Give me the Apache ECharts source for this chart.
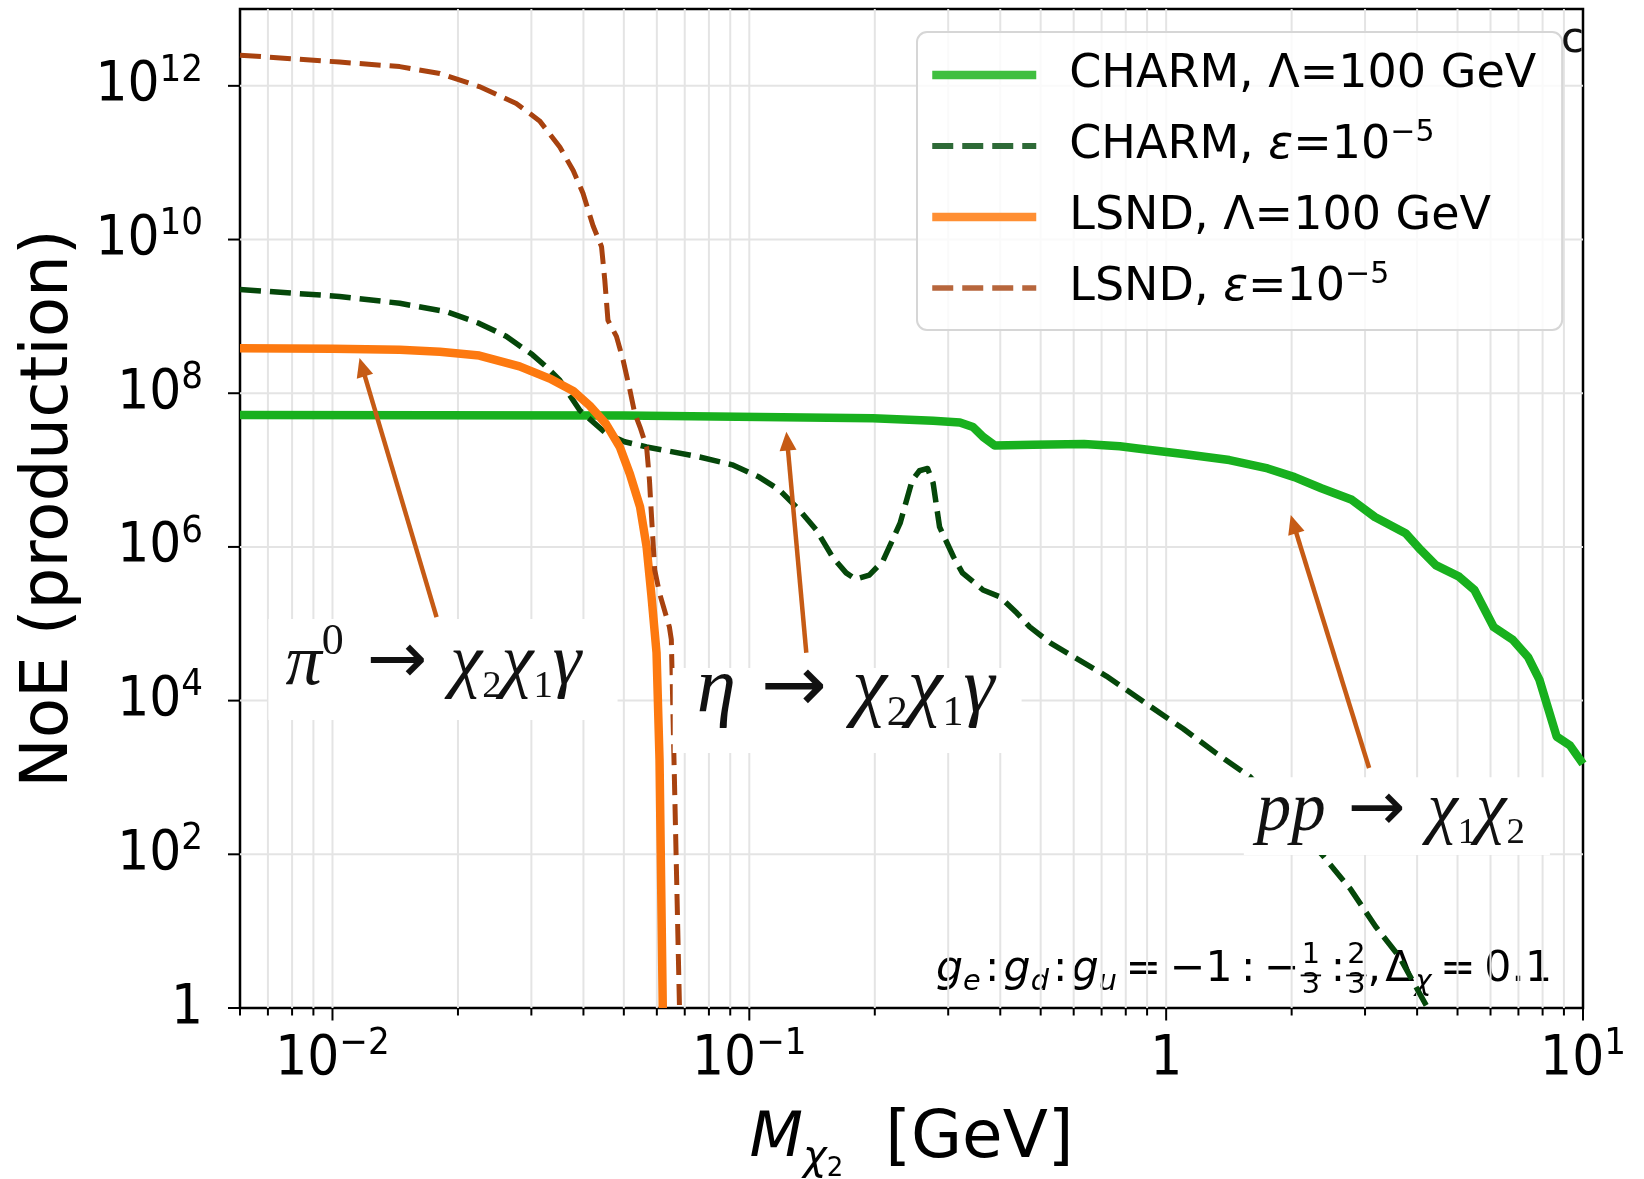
<!DOCTYPE html>
<html>
<head>
<meta charset="utf-8">
<script src="https://cdn.jsdelivr.net/npm/echarts@6/dist/echarts.min.js"></script>
<style>
  html, body { margin: 0; padding: 0; background: #fff; }
  #main { width: 1644px; height: 1179px; }
</style>
</head>
<body>
<div id="main"></div>
<script>
// x: M_chi2 [GeV], y: number of events (production)
var charmLamX = [0.006, 0.05, 0.198, 0.276, 0.320, 0.344, 0.364, 0.388, 0.479, 0.635, 0.774, 0.854, 1.10, 1.418, 1.752, 2.032, 2.356, 2.789, 3.167, 3.752, 4.083, 4.443, 5.043, 5.490, 6.104, 6.783, 7.379, 7.864, 8.647, 9.312, 10.0];
var charmLamY = [5.2e7, 5.13e7, 4.71e7, 4.37e7, 4.17e7, 3.63e7, 2.69e7, 2.09e7, 2.14e7, 2.19e7, 2.04e7, 1.91e7, 1.62e7, 1.35e7, 1.05e7, 8.1e6, 5.8e6, 4.1e6, 2.45e6, 1.51e6, 9.1e5, 5.75e5, 4.1e5, 2.75e5, 9.1e4, 6.2e4, 3.7e4, 1.86e4, 3.4e3, 2.6e3, 1.5e3];

var charmEpsX = [0.006, 0.0104, 0.0145, 0.0188, 0.0225, 0.0261, 0.0302, 0.0326, 0.0351, 0.0392, 0.0453, 0.0502, 0.0567, 0.0760, 0.0910, 0.1056, 0.1181, 0.132, 0.1448, 0.1583, 0.1707, 0.180, 0.194, 0.209, 0.230, 0.246, 0.256, 0.2677, 0.276, 0.286, 0.309, 0.3245, 0.3636, 0.3993, 0.4384, 0.4706, 0.5283, 0.6088, 0.7184, 0.9135, 1.099, 1.322, 1.590, 2.389, 2.771, 3.18, 3.62, 4.24];
var charmEpsY = [2.24e9, 1.82e9, 1.48e9, 1.15e9, 8.1e8, 5.5e8, 3.16e8, 2.2e8, 1.48e8, 6.0e7, 3.0e7, 2.34e7, 2.0e7, 1.48e7, 1.17e7, 8.1e6, 5.5e6, 3.0e6, 1.66e6, 7.4e5, 4.6e5, 3.8e5, 4.3e5, 6.5e5, 2.04e6, 7.4e6, 9.8e6, 1.05e7, 6.8e6, 1.82e6, 7.4e5, 4.6e5, 2.75e5, 2.24e5, 1.38e5, 9.1e4, 5.6e4, 3.55e4, 2.09e4, 8.5e3, 4.3e3, 2.04e3, 1.02e3, 93, 35, 11.5, 4.7, 1];

var lsndLamX = [0.006, 0.010, 0.0145, 0.0181, 0.0225, 0.0281, 0.0332, 0.0378, 0.0414, 0.0453, 0.0489, 0.0517, 0.0547, 0.0567, 0.0582, 0.0599, 0.0609, 0.0620];
var lsndLamY = [3.84e8, 3.80e8, 3.67e8, 3.47e8, 3.09e8, 2.24e8, 1.55e8, 1.07e8, 6.9e7, 4.0e7, 2.0e7, 8.9e6, 3.3e6, 1.0e6, 2.4e5, 4.2e4, 1.7e3, 1];

var lsndEpsX = [0.006, 0.0104, 0.0145, 0.0181, 0.0225, 0.0276, 0.0314, 0.0351, 0.0378, 0.0399, 0.0422, 0.0442, 0.0450, 0.0458, 0.0480, 0.0498, 0.0517, 0.0531, 0.0547, 0.0567, 0.0576, 0.0582, 0.0593, 0.0609, 0.0643, 0.0650, 0.0680];
var lsndEpsY = [2.51e12, 2.04e12, 1.78e12, 1.45e12, 9.8e11, 5.9e11, 3.5e11, 1.6e11, 7.9e10, 4.0e10, 1.5e10, 8.1e9, 3.0e9, 8.9e8, 5.5e8, 2.7e8, 1.1e8, 5.5e7, 3.6e7, 2.0e7, 7.4e6, 2.75e6, 5.0e5, 2.5e5, 9.1e4, 6.2e4, 1];

var seriesNames = ["CHARM, \u039b=100 GeV", "CHARM, \u03b5=10\u207b\u2075", "LSND, \u039b=100 GeV", "LSND, \u03b5=10\u207b\u2075"];

// axis ticks
var xTickValues = [0.01, 0.1, 1, 10];
var xMinorTicks = [0.006, 0.007, 0.008, 0.009, 0.02, 0.03, 0.04, 0.05, 0.06, 0.07, 0.08, 0.09, 0.2, 0.3, 0.4, 0.5, 0.6, 0.7, 0.8, 0.9, 2, 3, 4, 5, 6, 7, 8, 9];
var yTickValues = [1, 1e2, 1e4, 1e6, 1e8, 1e10, 1e12];

// annotation arrows (tail -> tip) and label boxes (top-left, bottom-right), data coords
var arrowTailX = [0.01777, 0.1370, 3.068];
var arrowTailY = [1.22e5, 4.2e4, 1327];
var arrowTipX = [0.01161, 0.1227, 1.990];
var arrowTipY = [2.87e8, 3.16e7, 2.6e6];
var boxX1 = [0.00702, 0.0655, 1.536];
var boxY1 = [1.15e5, 2.66e4, 1.01e3];
var boxX2 = [0.0483, 0.450, 8.33];
var boxY2 = [5.6e3, 2.08e3, 98];

var X_MIN = 0.006, X_MAX = 10, Y_MIN = 1, Y_MAX = 1e13;
var SANS = '"DejaVu Sans", "Liberation Sans", sans-serif';
var SANS_C = '"DejaVu Sans Condensed", "DejaVu Sans", sans-serif';
var SERIF = '"Liberation Serif", "DejaVu Serif", serif';
var ARROW = "#c65b15";

function pairs(xs, ys) {
  return xs.map(function (x, i) { return [x, ys[i]]; });
}

// --- small math-text layout helper (measured with canvas) ---
var mctx = document.createElement("canvas").getContext("2d");
function pieceFont(p, k) {
  return (p.it ? "italic " : "") + (p.size * k).toFixed(2) + "px " + (p.fam || SANS);
}
function pieceWidth(p, k) {
  mctx.font = pieceFont(p, k);
  if (p.frac) {
    return Math.max(mctx.measureText(p.frac[0]).width, mctx.measureText(p.frac[1]).width) + 4 * k;
  }
  return mctx.measureText(p.t).width;
}
function textEl(t, x, baseline, font, color, align, size) {
  return {
    type: "text", x: x, y: baseline - 0.345 * size,
    style: { text: t, font: font, fill: color, align: align, verticalAlign: "middle", textAlign: align, textVerticalAlign: "middle" }
  };
}
function layoutMath(pieces, x0, base, target, color) {
  var k = 1;
  if (target) {
    var w0 = 0;
    pieces.forEach(function (p) { w0 += pieceWidth(p, 1); });
    k = target / w0;
  }
  var out = [];
  var x = x0;
  pieces.forEach(function (p) {
    var w = pieceWidth(p, k);
    var font = pieceFont(p, k);
    if (p.frac) {
      var cx = x + w / 2;
      out.push(textEl(p.frac[0], cx, base + p.numDy * k, font, color, "center", p.size * k));
      out.push(textEl(p.frac[1], cx, base + p.denDy * k, font, color, "center", p.size * k));
      out.push({ type: "line", shape: { x1: x + k, y1: base + p.barDy * k, x2: x + w - k, y2: base + p.barDy * k }, style: { stroke: color, lineWidth: 1.8 } });
    } else {
      out.push(textEl(p.t, x, base + (p.dy || 0) * k, font, color, "left", p.size * k));
    }
    x += w;
  });
  return out;
}

var labelPieces = [
  [
    { t: "\u03c0", it: 1, size: 56, fam: SERIF },
    { t: "0", size: 34, dy: -25, fam: SERIF },
    { t: " \u2192 ", size: 56, fam: SANS },
    { t: "\u03c7", it: 1, size: 56, fam: SERIF },
    { t: "2", size: 30, dy: 8, fam: SERIF },
    { t: "\u03c7", it: 1, size: 56, fam: SERIF },
    { t: "1", size: 30, dy: 8, fam: SERIF },
    { t: "\u03b3", it: 1, size: 56, fam: SERIF }
  ],
  [
    { t: "\u03b7", it: 1, size: 62, fam: SERIF },
    { t: " \u2192 ", size: 62, fam: SANS },
    { t: "\u03c7", it: 1, size: 62, fam: SERIF },
    { t: "2", size: 33, dy: 9, fam: SERIF },
    { t: "\u03c7", it: 1, size: 62, fam: SERIF },
    { t: "1", size: 33, dy: 9, fam: SERIF },
    { t: "\u03b3", it: 1, size: 62, fam: SERIF }
  ],
  [
    { t: "pp", it: 1, size: 60, fam: SERIF },
    { t: " \u2192 ", size: 60, fam: SANS },
    { t: "\u03c7", it: 1, size: 60, fam: SERIF },
    { t: "1", size: 32, dy: 9, fam: SERIF },
    { t: "\u03c7", it: 1, size: 60, fam: SERIF },
    { t: "2", size: 32, dy: 9, fam: SERIF }
  ]
];
var labelLayout = [
  { inset: 17, baseOff: 20, width: 296 },
  { inset: 24, baseOff: 7, width: 298 },
  { inset: 13, baseOff: 20, width: 268 }
];

var couplingPieces = [
  { t: "g", it: 1, size: 40 }, { t: "e", it: 1, size: 27, dy: 7 },
  { t: "\u200a:\u200a", size: 40 },
  { t: "g", it: 1, size: 40 }, { t: "d", it: 1, size: 27, dy: 7 },
  { t: "\u200a:\u200a", size: 40 },
  { t: "g", it: 1, size: 40 }, { t: "u", it: 1, size: 27, dy: 7 },
  { t: "\u2009=\u2009\u22121\u2009:\u2009\u2212", size: 40 },
  { frac: ["1", "3"], size: 27, numDy: -18, denDy: 10, barDy: -9 },
  { t: "\u2009:", size: 40 },
  { frac: ["2", "3"], size: 27, numDy: -18, denDy: 10, barDy: -9 },
  { t: ",\u200a", size: 40 },
  { t: "\u0394", size: 40 }, { t: "\u03c7", it: 1, size: 27, dy: 7 },
  { t: "\u2009=\u20090.1", size: 40 }
];

function powLabel(v) {
  var e = Math.round(Math.log10(v));
  if (Math.abs(Math.log10(v) - e) > 1e-6) return "";
  if (e === 0) return "{b|1}";
  return "{b|10}{s|" + (e < 0 ? "\u2212" : "") + Math.abs(e) + "}";
}
var tickRich = {
  b: { fontSize: 56, fontFamily: SANS_C, color: "#000", lineHeight: 66 },
  s: { fontSize: 38, fontFamily: SANS_C, color: "#000", lineHeight: 36, padding: [0, 0, 30, 0] }
};

var chartDom = document.getElementById("main");
var myChart = echarts.init(chartDom);

var xGridData = xTickValues.map(function (v) { return [v, Y_MIN, 1]; })
  .concat(xMinorTicks.map(function (v) { return [v, Y_MIN, 0]; }));
var yGridData = yTickValues.map(function (v) { return [X_MIN, v]; });
var arrowData = arrowTailX.map(function (x, i) { return [x, arrowTailY[i], arrowTipX[i], arrowTipY[i]]; });
var boxData = boxX1.map(function (x, i) { return [x, boxY1[i], boxX2[i], boxY2[i]]; });

function renderXGrid(params, api) {
  var x = api.value(0);
  var major = api.value(2) === 1;
  var bot = api.coord([x, Y_MIN]);
  var top = api.coord([x, Y_MAX]);
  var children = [];
  if (x > X_MIN * 1.001 && x < X_MAX * 0.999) {
    children.push({ type: "line", shape: { x1: bot[0], y1: bot[1], x2: top[0], y2: top[1] }, style: { stroke: "#e4e4e4", lineWidth: 2 } });
  }
  children.push({ type: "line", shape: { x1: bot[0], y1: bot[1], x2: bot[0], y2: bot[1] + (major ? 12.5 : 7.5) }, style: { stroke: "#000", lineWidth: 2 } });
  return { type: "group", children: children };
}
function renderYGrid(params, api) {
  var y = api.value(1);
  var l = api.coord([X_MIN, y]);
  var r = api.coord([X_MAX, y]);
  var children = [];
  if (y > Y_MIN * 1.001 && y < Y_MAX * 0.999) {
    children.push({ type: "line", shape: { x1: l[0], y1: l[1], x2: r[0], y2: r[1] }, style: { stroke: "#e4e4e4", lineWidth: 2 } });
  }
  children.push({ type: "line", shape: { x1: l[0], y1: l[1], x2: l[0] - 12, y2: l[1] }, style: { stroke: "#000", lineWidth: 2 } });
  return { type: "group", children: children };
}
function renderArrow(params, api) {
  var a = api.coord([api.value(0), api.value(1)]);
  var b = api.coord([api.value(2), api.value(3)]);
  var dx = b[0] - a[0], dy = b[1] - a[1];
  var len = Math.sqrt(dx * dx + dy * dy);
  var ux = dx / len, uy = dy / len;
  var hl = 19, hw = 8.5;
  var bx = b[0] - ux * hl, by = b[1] - uy * hl;
  return {
    type: "group",
    children: [
      { type: "line", shape: { x1: a[0], y1: a[1], x2: bx + ux * 2, y2: by + uy * 2 }, style: { stroke: ARROW, lineWidth: 4.5 } },
      { type: "polygon", shape: { points: [[b[0], b[1]], [bx - uy * hw, by + ux * hw], [bx + uy * hw, by - ux * hw]] }, style: { fill: ARROW } }
    ]
  };
}
function renderBox(params, api) {
  var i = params.dataIndex;
  var p1 = api.coord([api.value(0), api.value(1)]);
  var p2 = api.coord([api.value(2), api.value(3)]);
  var cfg = labelLayout[i];
  var children = [{ type: "rect", shape: { x: p1[0], y: p1[1], width: p2[0] - p1[0], height: p2[1] - p1[1] }, style: { fill: "#fff" } }];
  var texts = layoutMath(labelPieces[i], p1[0] + cfg.inset, (p1[1] + p2[1]) / 2 + cfg.baseOff, cfg.width, "#111");
  return { type: "group", children: children.concat(texts) };
}

var lineColors = ["#18b01e", "#05470a", "#fd790f", "#a8420f"];
var legendColors = ["#3fbf3f", "#2e6a37", "#ff8f33", "#b7663c"];
var lineWidths = [8.5, 5.5, 8.5, 5];
var lineDash = ["solid", [21, 9], "solid", [21, 9]];
var legendRich = {
  "CHARM, \u039b=100 GeV": "CHARM, \u039b=100 GeV",
  "CHARM, \u03b5=10\u207b\u2075": "CHARM, {e|\u03b5}=10{s|\u22125}",
  "LSND, \u039b=100 GeV": "LSND, \u039b=100 GeV",
  "LSND, \u03b5=10\u207b\u2075": "LSND, {e|\u03b5}=10{s|\u22125}"
};

var seriesData = [pairs(charmLamX, charmLamY), pairs(charmEpsX, charmEpsY), pairs(lsndLamX, lsndLamY), pairs(lsndEpsX, lsndEpsY)];

var lineSeries = seriesNames.map(function (name, i) {
  return {
    name: name,
    type: "line",
    data: seriesData[i],
    symbol: "none",
    showSymbol: false,
    clip: true,
    z: 2,
    lineStyle: { color: lineColors[i], width: lineWidths[i], type: lineDash[i], cap: "butt", join: "round" },
    itemStyle: { color: lineColors[i] }
  };
});

var option = {
  animation: false,
  backgroundColor: "#fff",
  grid: {
    left: 240, right: 61, top: 9, bottom: 171,
    containLabel: false, outerBoundsMode: "none",
    show: true, borderColor: "#000", borderWidth: 2.5, backgroundColor: "transparent"
  },
  legend: {
    orient: "vertical",
    left: 917,
    top: 32,
    padding: [15, 26, 14, 11],
    itemWidth: 104,
    itemHeight: 20,
    itemGap: 15,
    selectedMode: false,
    backgroundColor: "rgba(255,255,255,0.8)",
    borderColor: "#d6d6d6",
    borderWidth: 2,
    borderRadius: 10,
    data: seriesNames.map(function (name, i) {
      return {
        name: name,
        lineStyle: { color: legendColors[i], width: lineWidths[i] + (i % 2 ? 0.5 : 0), type: lineDash[i] },
        itemStyle: { color: legendColors[i], borderWidth: 0, opacity: 0 }
      };
    }),
    formatter: function (name) { return legendRich[name]; },
    textStyle: {
      fontSize: 46, fontFamily: SANS, color: "#000", lineHeight: 56, padding: [0, 0, 0, 28],
      rich: {
        e: { fontSize: 46, fontFamily: SANS, fontStyle: "italic", color: "#000", lineHeight: 56 },
        s: { fontSize: 30, fontFamily: SANS, color: "#000", lineHeight: 30, padding: [0, 0, 26, 0] }
      }
    }
  },
  xAxis: {
    type: "log",
    logBase: 10,
    min: X_MIN,
    max: X_MAX,
    splitNumber: 3,
    axisLine: { show: false },
    axisTick: { show: false },
    minorTick: { show: false },
    splitLine: { show: false },
    axisLabel: { customValues: xTickValues, formatter: powLabel, margin: 18, rich: tickRich },
    name: "{m|M}{c|\u03c7}{t|2}{g|  [GeV]}",
    nameLocation: "middle",
    nameGap: 91,
    nameTextStyle: {
      rich: {
        m: { fontSize: 62, fontFamily: SANS, fontStyle: "italic", color: "#000", lineHeight: 80 },
        c: { fontSize: 40, fontFamily: SANS, fontStyle: "italic", color: "#000", lineHeight: 40, padding: [38, 0, 0, 0] },
        t: { fontSize: 26, fontFamily: SANS, color: "#000", lineHeight: 26, padding: [58, 0, 0, 0] },
        g: { fontSize: 66, fontFamily: SANS, color: "#000", lineHeight: 80 }
      }
    }
  },
  yAxis: {
    type: "log",
    logBase: 10,
    min: Y_MIN,
    max: Y_MAX,
    axisLine: { show: false },
    axisTick: { show: false },
    minorTick: { show: false },
    splitLine: { show: false },
    axisLabel: { customValues: yTickValues, formatter: powLabel, margin: 37, rich: tickRich },
    name: "NoE (production)",
    nameLocation: "middle",
    nameRotate: 90,
    nameGap: 153,
    nameTextStyle: { fontSize: 66, fontFamily: SANS, color: "#000", lineHeight: 70 }
  },
  graphic: [
    { type: "group", children: layoutMath(couplingPieces, 936, 985, 616, "#000") },
    { type: "text", left: 1561, top: 20, z: 100, style: { text: "c", font: "42px " + SANS, fill: "#111" } }
  ],
  series: [
    { type: "custom", name: "xgrid", coordinateSystem: "cartesian2d", data: xGridData, encode: { x: 0, y: 1 }, renderItem: renderXGrid, z: 1, silent: true, clip: false },
    { type: "custom", name: "ygrid", coordinateSystem: "cartesian2d", data: yGridData, encode: { x: 0, y: 1 }, renderItem: renderYGrid, z: 1, silent: true, clip: false }
  ].concat(lineSeries).concat([
    { type: "custom", name: "arrows", coordinateSystem: "cartesian2d", data: arrowData, encode: { x: [0, 2], y: [1, 3] }, renderItem: renderArrow, z: 3, silent: true, clip: false },
    { type: "custom", name: "labels", coordinateSystem: "cartesian2d", data: boxData, encode: { x: [0, 2], y: [1, 3] }, renderItem: renderBox, z: 3, silent: true, clip: false }
  ])
};

option && myChart.setOption(option);
</script>
</body>
</html>
